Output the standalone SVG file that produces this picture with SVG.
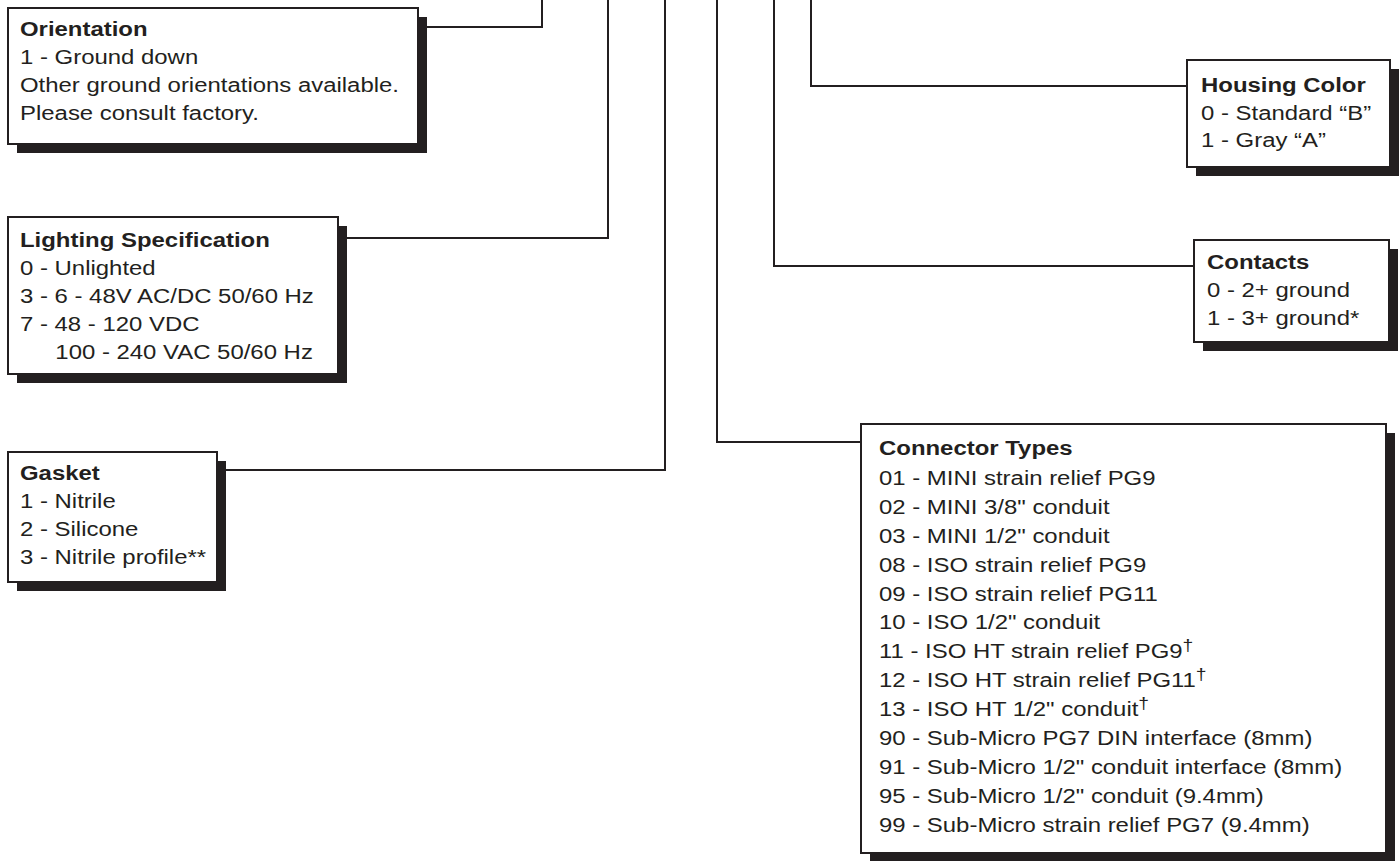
<svg xmlns="http://www.w3.org/2000/svg" width="1400" height="861" viewBox="0 0 1400 861">
<style>
.bg{fill:#ffffff}
.box{fill:#ffffff;stroke:#231f20;stroke-width:2}
.shadow{fill:#231f20}
.wire{fill:none;stroke:#231f20;stroke-width:2;stroke-linejoin:miter}
text{font-family:"Liberation Sans",Arial,Helvetica,sans-serif;font-size:21px;fill:#231f20}
.h{font-weight:bold}
.dg{font-size:17px}
</style>
<rect class="bg" x="0" y="0" width="1400" height="861"/>
<g id="connectors">
<polyline class="wire" points="418,27 542,27 542,0"/>
<polyline class="wire" points="338,238 608,238 608,0"/>
<polyline class="wire" points="217,470 665,470 665,0"/>
<polyline class="wire" points="861,442 717,442 717,0"/>
<polyline class="wire" points="1194,266 774,266 774,0"/>
<polyline class="wire" points="1187,86 811,86 811,0"/>
</g>
<g id="orientation">
<rect class="shadow" x="17" y="17" width="410" height="136"/>
<rect class="box" x="8" y="8" width="410" height="136"/>
<text transform="translate(20 0) scale(1.14 1)"><tspan class="h" x="0" y="36">Orientation</tspan><tspan x="0" y="64">1 - Ground down</tspan><tspan x="0" y="92">Other ground orientations available.</tspan><tspan x="0" y="120">Please consult factory.</tspan></text>
</g>
<g id="lighting">
<rect class="shadow" x="17" y="226" width="330" height="157"/>
<rect class="box" x="8" y="217" width="330" height="157"/>
<text transform="translate(20 0) scale(1.14 1)"><tspan class="h" x="0" y="247">Lighting Specification</tspan><tspan x="0" y="275">0 - Unlighted</tspan><tspan x="0" y="303">3 - 6 - 48V AC/DC 50/60 Hz</tspan><tspan x="0" y="331">7 - 48 - 120 VDC</tspan><tspan x="31" y="359">100 - 240 VAC 50/60 Hz</tspan></text>
</g>
<g id="gasket">
<rect class="shadow" x="17" y="461" width="209" height="130"/>
<rect class="box" x="8" y="452" width="209" height="130"/>
<text transform="translate(20 0) scale(1.14 1)"><tspan class="h" x="0" y="480">Gasket</tspan><tspan x="0" y="508">1 - Nitrile</tspan><tspan x="0" y="536">2 - Silicone</tspan><tspan x="0" y="564">3 - Nitrile profile**</tspan></text>
</g>
<g id="housing-color">
<rect class="shadow" x="1196" y="69" width="203" height="107"/>
<rect class="box" x="1187" y="60" width="203" height="107"/>
<text transform="translate(1201 0) scale(1.14 1)"><tspan class="h" x="0" y="92">Housing Color</tspan><tspan x="0" y="120">0 - Standard “B”</tspan><tspan x="0" y="147">1 - Gray “A”</tspan></text>
</g>
<g id="contacts">
<rect class="shadow" x="1203" y="249" width="195" height="102"/>
<rect class="box" x="1194" y="240" width="195" height="102"/>
<text transform="translate(1207 0) scale(1.14 1)"><tspan class="h" x="0" y="269">Contacts</tspan><tspan x="0" y="297">0 - 2+ ground</tspan><tspan x="0" y="325">1 - 3+ ground*</tspan></text>
</g>
<g id="connector-types">
<rect class="shadow" x="870" y="433" width="525" height="429"/>
<rect class="box" x="861" y="424" width="525" height="429"/>
<text transform="translate(879 0) scale(1.14 1)"><tspan class="h" x="0" y="455">Connector Types</tspan><tspan x="0" y="485">01 - MINI strain relief PG9</tspan><tspan x="0" y="513.9">02 - MINI 3/8" conduit</tspan><tspan x="0" y="542.8">03 - MINI 1/2" conduit</tspan><tspan x="0" y="571.7">08 - ISO strain relief PG9</tspan><tspan x="0" y="600.6">09 - ISO strain relief PG11</tspan><tspan x="0" y="629.5">10 - ISO 1/2" conduit</tspan><tspan x="0" y="658.4">11 - ISO HT strain relief PG9</tspan><tspan class="dg" dy="-7">†</tspan><tspan x="0" y="687.3">12 - ISO HT strain relief PG11</tspan><tspan class="dg" dy="-7">†</tspan><tspan x="0" y="716.2">13 - ISO HT 1/2" conduit</tspan><tspan class="dg" dy="-7">†</tspan><tspan x="0" y="745.1">90 - Sub-Micro PG7 DIN interface (8mm)</tspan><tspan x="0" y="774">91 - Sub-Micro 1/2" conduit interface (8mm)</tspan><tspan x="0" y="802.9">95 - Sub-Micro 1/2" conduit (9.4mm)</tspan><tspan x="0" y="831.8">99 - Sub-Micro strain relief PG7 (9.4mm)</tspan></text>
</g>
</svg>
